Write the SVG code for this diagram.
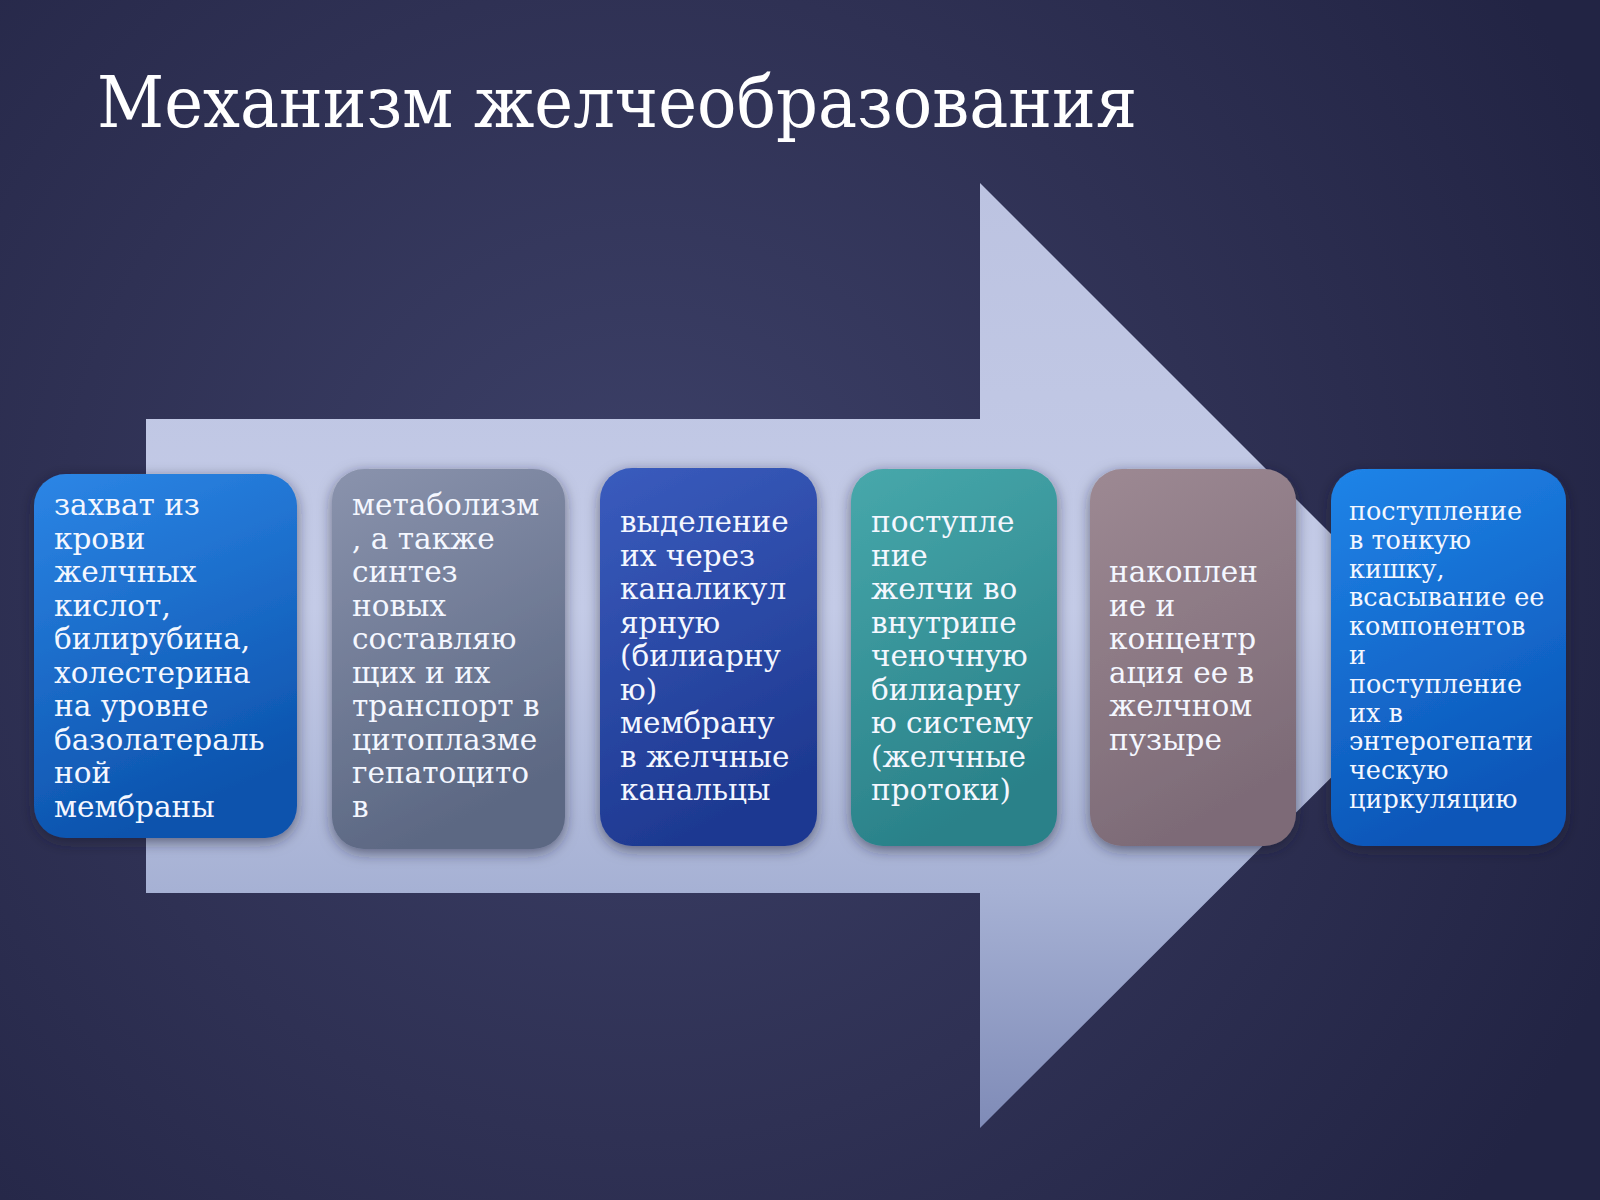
<svg xmlns="http://www.w3.org/2000/svg" width="1600" height="1200" viewBox="0 0 1600 1200">
<defs>
<radialGradient id="bg" cx="640" cy="560" r="1050" gradientUnits="userSpaceOnUse">
<stop offset="0" stop-color="#3d4169"/>
<stop offset="0.55" stop-color="#2f3154"/>
<stop offset="1" stop-color="#222444"/>
</radialGradient>
<linearGradient id="arr" x1="0" y1="183" x2="0" y2="1128" gradientUnits="userSpaceOnUse">
<stop offset="0" stop-color="#bcc3e1"/>
<stop offset="0.45" stop-color="#c4cbe7"/>
<stop offset="0.75" stop-color="#a6b1d4"/>
<stop offset="1" stop-color="#7f8bb7"/>
</linearGradient>
<linearGradient id="g1" x1="0" y1="0" x2="0.3" y2="1"><stop offset="0" stop-color="#2c86e6"/><stop offset="1" stop-color="#0c53ad"/></linearGradient>
<linearGradient id="g2" x1="0" y1="0" x2="0.3" y2="1"><stop offset="0" stop-color="#8a93ad"/><stop offset="1" stop-color="#5c6883"/></linearGradient>
<linearGradient id="g3" x1="0" y1="0" x2="0.3" y2="1"><stop offset="0" stop-color="#3a5cbe"/><stop offset="1" stop-color="#1e3991"/></linearGradient>
<linearGradient id="g4" x1="0" y1="0" x2="0.3" y2="1"><stop offset="0" stop-color="#47a8ab"/><stop offset="1" stop-color="#2a8189"/></linearGradient>
<linearGradient id="g5" x1="0" y1="0" x2="0.3" y2="1"><stop offset="0" stop-color="#9d8993"/><stop offset="1" stop-color="#7d6b77"/></linearGradient>
<linearGradient id="g6" x1="0" y1="0" x2="0.3" y2="1"><stop offset="0" stop-color="#2084e8"/><stop offset="1" stop-color="#0b56b8"/></linearGradient>
<filter id="sh" x="-20%" y="-20%" width="140%" height="140%">
<feDropShadow dx="0" dy="4" stdDeviation="7" flood-color="#1a1c33" flood-opacity="0.55"/>
</filter>
</defs>
<style>
.t{font-family:"DejaVu Serif","Liberation Serif",serif;fill:#f4f7ff}
.b{font-size:29.5px}
.s{font-size:25.5px}
.title{font-family:"DejaVu Serif","Liberation Serif",serif;font-size:71px;fill:#ffffff}
</style>
<rect x="0" y="0" width="1600" height="1200" fill="url(#bg)"/>
<text class="title" x="97" y="127" textLength="1040" lengthAdjust="spacingAndGlyphs">Механизм желчеобразования</text>
<g id="connectors">
<path d="M146 419 H980 V183 L1453 656 L980 1128 V893 H146 Z" fill="url(#arr)"/>
</g>
<g id="n1">
<rect x="34" y="474" width="263" height="364" rx="32" fill="url(#g1)" filter="url(#sh)"/>
<text class="t b"><tspan x="54" y="515">захват из</tspan><tspan x="54" y="548.5">крови</tspan><tspan x="54" y="582">желчных</tspan><tspan x="54" y="615.5">кислот,</tspan><tspan x="54" y="649">билирубина,</tspan><tspan x="54" y="682.5">холестерина</tspan><tspan x="54" y="716">на уровне</tspan><tspan x="54" y="749.5">базолатераль</tspan><tspan x="54" y="783">ной</tspan><tspan x="54" y="816.5">мембраны</tspan></text>
</g>
<g id="n2">
<rect x="332" y="469" width="233" height="380" rx="32" fill="url(#g2)" filter="url(#sh)"/>
<text class="t b"><tspan x="352" y="515">метаболизм</tspan><tspan x="352" y="548.5">, а также</tspan><tspan x="352" y="582">синтез</tspan><tspan x="352" y="615.5">новых</tspan><tspan x="352" y="649">составляю</tspan><tspan x="352" y="682.5">щих и их</tspan><tspan x="352" y="716">транспорт в</tspan><tspan x="352" y="749.5">цитоплазме</tspan><tspan x="352" y="783">гепатоцито</tspan><tspan x="352" y="816.5">в</tspan></text>
</g>
<g id="n3">
<rect x="600" y="468" width="217" height="378" rx="32" fill="url(#g3)" filter="url(#sh)"/>
<text class="t b"><tspan x="620" y="532">выделение</tspan><tspan x="620" y="565.5">их через</tspan><tspan x="620" y="599">каналикул</tspan><tspan x="620" y="632.5">ярную</tspan><tspan x="620" y="666">(билиарну</tspan><tspan x="620" y="699.5">ю)</tspan><tspan x="620" y="733">мембрану</tspan><tspan x="620" y="766.5">в желчные</tspan><tspan x="620" y="800">канальцы</tspan></text>
</g>
<g id="n4">
<rect x="851" y="469" width="206" height="377" rx="32" fill="url(#g4)" filter="url(#sh)"/>
<text class="t b"><tspan x="871" y="532">поступле</tspan><tspan x="871" y="565.5">ние</tspan><tspan x="871" y="599">желчи во</tspan><tspan x="871" y="632.5">внутрипе</tspan><tspan x="871" y="666">ченочную</tspan><tspan x="871" y="699.5">билиарну</tspan><tspan x="871" y="733">ю систему</tspan><tspan x="871" y="766.5">(желчные</tspan><tspan x="871" y="800">протоки)</tspan></text>
</g>
<g id="n5">
<rect x="1090" y="469" width="206" height="377" rx="32" fill="url(#g5)" filter="url(#sh)"/>
<text class="t b"><tspan x="1109" y="582">накоплен</tspan><tspan x="1109" y="615.5">ие и</tspan><tspan x="1109" y="649">концентр</tspan><tspan x="1109" y="682.5">ация ее в</tspan><tspan x="1109" y="716">желчном</tspan><tspan x="1109" y="749.5">пузыре</tspan></text>
</g>
<g id="n6">
<rect x="1331" y="469" width="235" height="377" rx="32" fill="url(#g6)" filter="url(#sh)"/>
<text class="t s"><tspan x="1349" y="520">поступление</tspan><tspan x="1349" y="548.8">в тонкую</tspan><tspan x="1349" y="577.6">кишку,</tspan><tspan x="1349" y="606.4">всасывание ее</tspan><tspan x="1349" y="635.2">компонентов</tspan><tspan x="1349" y="664">и</tspan><tspan x="1349" y="692.8">поступление</tspan><tspan x="1349" y="721.6">их в</tspan><tspan x="1349" y="750.4">энтерогепати</tspan><tspan x="1349" y="779.2">ческую</tspan><tspan x="1349" y="808">циркуляцию</tspan></text>
</g>
</svg>
